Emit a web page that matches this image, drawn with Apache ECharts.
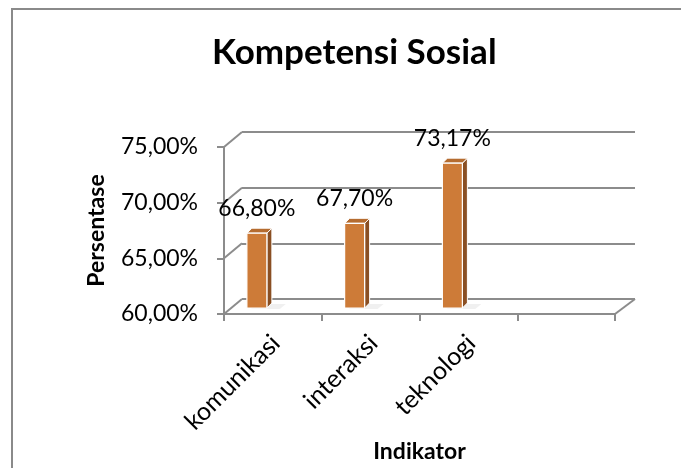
<!DOCTYPE html>
<html>
<head>
<meta charset="utf-8">
<script src="https://cdn.jsdelivr.net/npm/echarts@6/dist/echarts.min.js"></script>
<style>
html,body{margin:0;padding:0;background:#fff;}
#main{width:681px;height:468px;}
</style>
</head>
<body>
<div id="main"></div>
<script>
var categories = ['komunikasi', 'interaksi', 'teknologi', ''];
var values = [66.80, 67.70, 73.17];
var yTicks = [60, 65, 70, 75];
var titleText = 'Kompetensi Sosial';
var yName = 'Persentase';
var xName = 'Indikator';

var FONT = 'Lato, "Liberation Sans", sans-serif';
var GRID_COL = '#8c8c8c';

function pct(v) { return v.toFixed(2).replace('.', ',') + '%'; }

var chart = echarts.init(document.getElementById('main'), null, {renderer: 'canvas'});

var option = {
  backgroundColor: '#ffffff',
  animation: false,
  title: {
    text: titleText,
    left: 207,
    top: 30,
    textStyle: {fontFamily: FONT, fontWeight: 'bold', fontSize: 35, color: '#000'}
  },
  graphic: [{
    type: 'rect',
    shape: {x: 12, y: 9, width: 720, height: 520},
    style: {fill: 'none', stroke: '#8a8a8a', lineWidth: 2},
    silent: true, z: 0
  }],
  grid: [
    {left: 242, right: 46, top: 132, bottom: 169},
    {left: 224, right: 66, top: 147, bottom: 154},
    {left: 208, right: 82, top: 143, bottom: 160},
    {left: 227, right: 63, top: 147, bottom: 154}
  ],
  xAxis: [
    {gridIndex: 0, type: 'category', data: categories, show: false},
    {gridIndex: 1, type: 'category', data: categories,
      axisLine: {show: true, lineStyle: {color: GRID_COL, width: 2}},
      axisTick: {show: true, alignWithLabel: false, length: 7, lineStyle: {color: GRID_COL, width: 2}},
      axisLabel: {show: false},
      name: xName, nameLocation: 'middle', nameGap: 126,
      nameTextStyle: {fontFamily: FONT, fontWeight: 'bold', fontSize: 23, color: '#000'}
    },
    {gridIndex: 2, type: 'category', data: categories, show: false},
    {gridIndex: 3, type: 'category', data: categories,
      axisLine: {show: false}, axisTick: {show: false},
      axisLabel: {rotate: 45, margin: 25, fontFamily: FONT, fontSize: 25, color: '#000', interval: 0}
    }
  ],
  yAxis: [
    {gridIndex: 0, type: 'value', min: 60, max: 75, interval: 5,
      axisLine: {show: false}, axisTick: {show: false}, axisLabel: {show: false},
      splitLine: {show: true, lineStyle: {color: GRID_COL, width: 2}}},
    {gridIndex: 1, type: 'value', min: 60, max: 75, interval: 5,
      axisLine: {show: true, lineStyle: {color: GRID_COL, width: 2}},
      axisTick: {show: true, length: 7, lineStyle: {color: GRID_COL, width: 2}},
      splitLine: {show: false},
      axisLabel: {margin: 26, padding: [6, 0, 0, 0], fontFamily: FONT, fontSize: 23, color: '#000',
        formatter: function (v) { return pct(v); }},
      name: yName, nameLocation: 'middle', nameGap: 116, nameRotate: 90,
      nameTextStyle: {fontFamily: FONT, fontWeight: 'bold', fontSize: 23, color: '#000'}
    },
    {gridIndex: 2, type: 'value', min: 60, max: 75, interval: 5, show: false},
    {gridIndex: 3, type: 'value', min: 60, max: 75, interval: 5, show: false}
  ],
  series: [
    {
      type: 'custom', xAxisIndex: 1, yAxisIndex: 1, silent: true, z: 1,
      data: yTicks.map(function (t) { return [0, t]; }),
      renderItem: function (params, api) {
        var cs = params.coordSys;
        var y = api.coord([0, api.value(1)])[1];
        var x0 = cs.x;
        var children = [{
          type: 'line',
          shape: {x1: x0, y1: y, x2: x0 + 18, y2: y - 15},
          style: {stroke: GRID_COL, lineWidth: 2}
        }];
        if (params.dataIndex === 0) {
          var x1 = cs.x + cs.width;
          children.push({
            type: 'line',
            shape: {x1: x1, y1: y, x2: x1 + 20, y2: y - 15},
            style: {stroke: GRID_COL, lineWidth: 2}
          });
        }
        return {type: 'group', children: children};
      }
    },
    {
      type: 'custom', xAxisIndex: 2, yAxisIndex: 2, silent: true, z: 5,
      data: values.map(function (v, i) { return [i, v]; }),
      renderItem: function (params, api) {
        var idx = api.value(0), v = api.value(1);
        var top = api.coord([idx, v]);
        var base = api.coord([idx, 60]);
        var cx = top[0], ty = top[1], by = base[1];
        var hw = 10, d = 5;
        return {
          type: 'group',
          children: [
            {type: 'polygon', shape: {points: [[cx - hw + 4, by + 1], [cx + hw + d + 8, by + 1], [cx + hw + d + 14, by - 4], [cx - hw + 10, by - 4]]},
              style: {fill: 'rgba(0,0,0,0.06)'}},
            {type: 'polygon', shape: {points: [[cx + hw, ty], [cx + hw + d, ty - d], [cx + hw + d, by - d], [cx + hw, by]]},
              style: {fill: '#8a4f23', stroke: '#ffffff', lineWidth: 1}},
            {type: 'polygon', shape: {points: [[cx - hw, ty], [cx - hw + d, ty - d], [cx + hw + d, ty - d], [cx + hw, ty]]},
              style: {fill: '#b56c30', stroke: '#ffffff', lineWidth: 1}},
            {type: 'rect', shape: {x: cx - hw, y: ty, width: 2 * hw, height: by - ty},
              style: {fill: '#cd7b38', stroke: '#ffffff', lineWidth: 1.2}},
            {type: 'text', x: cx, y: ty - 25,
              style: {text: pct(v), fill: '#000', font: '23px ' + FONT, align: 'center', verticalAlign: 'middle'}}
          ]
        };
      }
    }
  ]
};
chart.setOption(option);
</script>
</body>
</html>
